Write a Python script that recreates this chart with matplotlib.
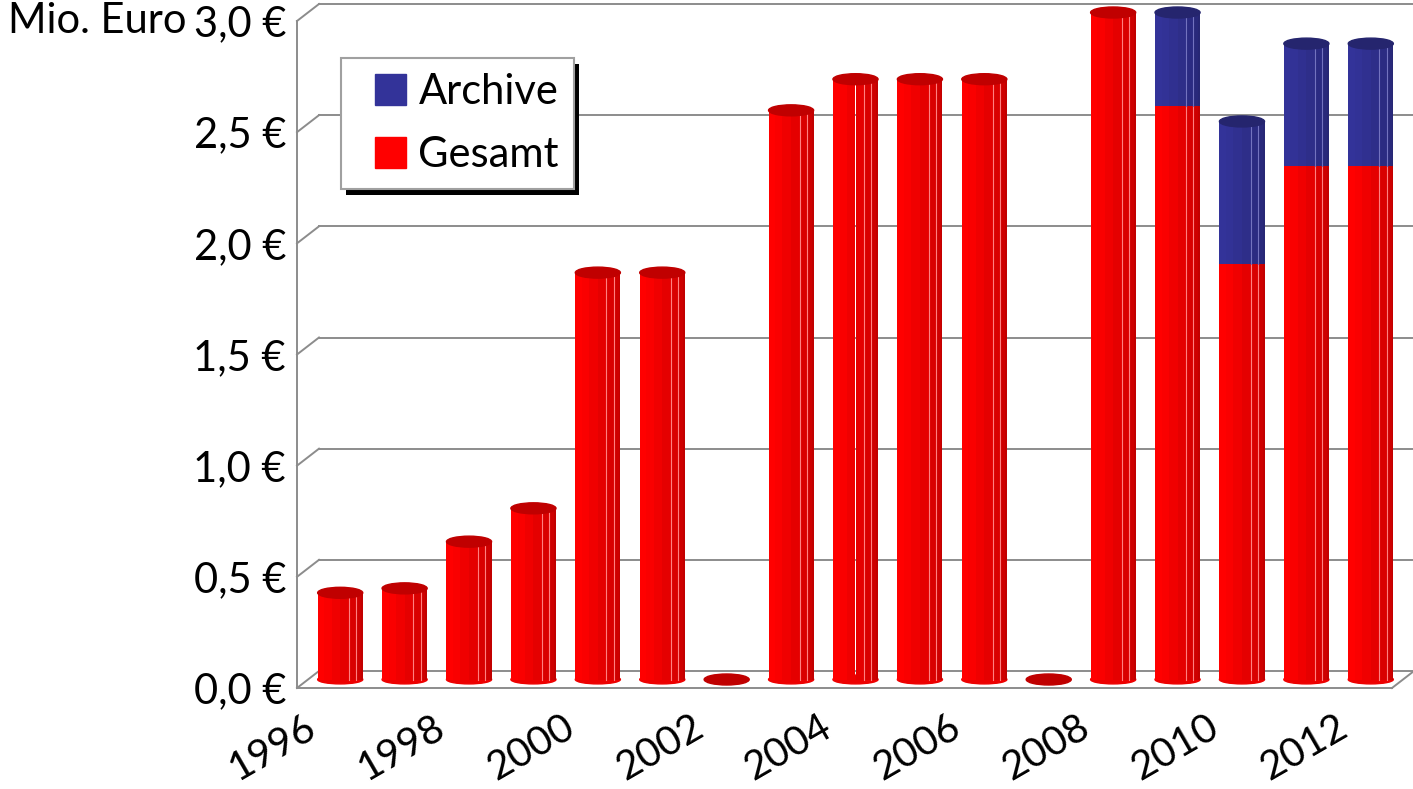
import numpy as np
import matplotlib
matplotlib.use('Agg')
import matplotlib.pyplot as plt
from matplotlib.transforms import ScaledTranslation, IdentityTransform
from matplotlib.patches import Ellipse, Patch, Rectangle
from matplotlib.legend_handler import HandlerPatch

# ---------------- data ----------------
years = list(range(1996, 2013))
gesamt = [0.39, 0.41, 0.62, 0.77, 1.83, 1.83, 0.00, 2.56, 2.70, 2.70, 2.70,
          0.00, 3.00, 2.58, 1.87, 2.31, 2.31]
archive = [0, 0, 0, 0, 0, 0, 0, 0, 0, 0, 0, 0, 0, 0.42, 0.64, 0.55, 0.55]
y_ticks = [0.0, 0.5, 1.0, 1.5, 2.0, 2.5, 3.0]
y_tick_labels = ['0,0 €', '0,5 €', '1,0 €', '1,5 €', '2,0 €', '2,5 €', '3,0 €']
x_label_years = [1996, 1998, 2000, 2002, 2004, 2006, 2008, 2010, 2012]
series_names = ['Archive', 'Gesamt']

# ---------------- style ----------------
plt.rcParams['font.family'] = ['Lato', 'DejaVu Sans']
FS = 30
W, H, DPI = 1413, 789, 100
GRID = '#8c8c8c'
RED_CAP = '#c00000'
BLUE_CAP = '#25256e'

fig = plt.figure(figsize=(W / DPI, H / DPI), dpi=DPI)
L, R, B, T = 297, 1392, 688, 21
ax = fig.add_axes([L / W, 1 - B / H, (R - L) / W, (B - T) / H])
n = len(years)
ax.set_xlim(0, n)
ax.set_ylim(0, 3)
for s in ['top', 'right']:
    ax.spines[s].set_visible(False)
for s in ['left', 'bottom']:
    ax.spines[s].set_color(GRID)
    ax.spines[s].set_linewidth(1.4)
ax.set_xticks([])
ax.set_yticks(y_ticks, y_tick_labels)
ax.tick_params(axis='y', length=0, pad=8, labelsize=FS)

DX, DY = 22, 17
back = ax.transData + ScaledTranslation(DX / DPI, DY / DPI, fig.dpi_scale_trans)
mid = ax.transData + ScaledTranslation(DX / 2 / DPI, DY / 2 / DPI, fig.dpi_scale_trans)

# back wall grid + side diagonals
for v in y_ticks:
    ax.plot([0, n], [v, v], color=GRID, lw=1.4, transform=back, clip_on=False, zorder=0.5)
    tr = fig.dpi_scale_trans + ScaledTranslation(0, v, ax.transData)
    ax.plot([0, DX / DPI], [0, DY / DPI], color=GRID, lw=1.4, transform=tr, clip_on=False, zorder=0.5)
tr = fig.dpi_scale_trans + ScaledTranslation(n, 0, ax.transData)
ax.plot([0, DX / DPI], [0, DY / DPI], color=GRID, lw=1.4, transform=tr, clip_on=False, zorder=0.5)

# cylinder bars
x = np.arange(n) + 0.5
bw = 0.70
nf = 8
edges = np.cos(np.linspace(np.pi, 0, nf + 1))  # -1 .. 1
def shade(base, k):
    t = k / (nf - 1)
    f = 1.0 - 0.24 * max(0.0, (t - 0.2) / 0.8) ** 1.1
    return tuple(min(1, c * f) for c in base)

red = (1.0, 0.0, 0.0)
blue = (0.20, 0.20, 0.60)
g = np.array(gesamt)
a = np.array(archive)
capH = 11 * 3.0 / (B - T)
for k in range(nf):
    x0 = edges[k] * bw / 2
    x1 = edges[k + 1] * bw / 2
    wk = x1 - x0
    xc = x + (x0 + x1) / 2
    ax.bar(xc, g, width=wk, color=shade(red, k), edgecolor='none',
           transform=mid, clip_on=False, zorder=2)
    ax.bar(xc, a, bottom=g, width=wk, color=shade(blue, k), edgecolor='none',
           transform=mid, clip_on=False, zorder=2)
    if k in (5, 6):
        for xi, gi, ai in zip(xc, g, a):
            if gi + ai > 0:
                ax.plot([xi - wk / 2] * 2, [0, gi], color=(1, 0.5, 0.5), lw=0.8,
                        transform=mid, clip_on=False, zorder=2.1)
                if ai > 0:
                    ax.plot([xi - wk / 2] * 2, [gi, gi + ai], color=(0.45, 0.45, 0.75), lw=0.8,
                            transform=mid, clip_on=False, zorder=2.1)

# rounded bottoms
for xi, gi, ai in zip(x, g, a):
    if gi > 0:
        ax.add_patch(Ellipse((xi, 0), bw, capH * 0.8, color=(0.93, 0, 0), transform=mid,
                             clip_on=False, zorder=1.9))

for xi, gi, ai in zip(x, g, a):
    top = gi + ai
    col = BLUE_CAP if ai > 0 else RED_CAP
    ax.add_patch(Ellipse((xi, top), bw, capH, color=col, transform=mid,
                         clip_on=False, zorder=3))

# x labels
xlab_tr = ax.get_xaxis_transform() + ScaledTranslation(-25 / DPI, -20 / DPI, fig.dpi_scale_trans)
for yr in x_label_years:
    i = years.index(yr)
    ax.text(i + 0.5, 0, str(yr), transform=xlab_tr, rotation=30, ha='right', va='top',
            rotation_mode='anchor', fontsize=29)

fig.text(8 / W, 1 - 21 / H, 'Mio. Euro', ha='left', va='center', fontsize=FS)

# legend
def square_right(legend, orig_handle, xdescent, ydescent, width, height, fontsize):
    return Rectangle((-xdescent + width - height, -ydescent), height, height)

handles = [Patch(color=blue, label=series_names[0]), Patch(color=red, label=series_names[1])]
leg = ax.legend(handles=handles, loc='upper left', bbox_to_anchor=(341 / W, 1 - 58 / H),
                bbox_transform=fig.transFigure, borderaxespad=0, fontsize=FS,
                frameon=True, fancybox=False, framealpha=1, edgecolor='#a0a0a0',
                borderpad=0.36, labelspacing=0.6, handlelength=1.2, handleheight=0.75,
                handletextpad=0.3,
                handler_map={Patch: HandlerPatch(patch_func=square_right)})
leg.get_frame().set_linewidth(1.5)
leg.set_zorder(10)
fig.canvas.draw()
bb = leg.get_window_extent()
ax.add_patch(Rectangle((bb.x0 + 5, bb.y0 - 6), bb.width, bb.height, transform=IdentityTransform(),
                       facecolor='black', edgecolor='none', clip_on=False, zorder=9))

fig.savefig('out.png', dpi=DPI)
